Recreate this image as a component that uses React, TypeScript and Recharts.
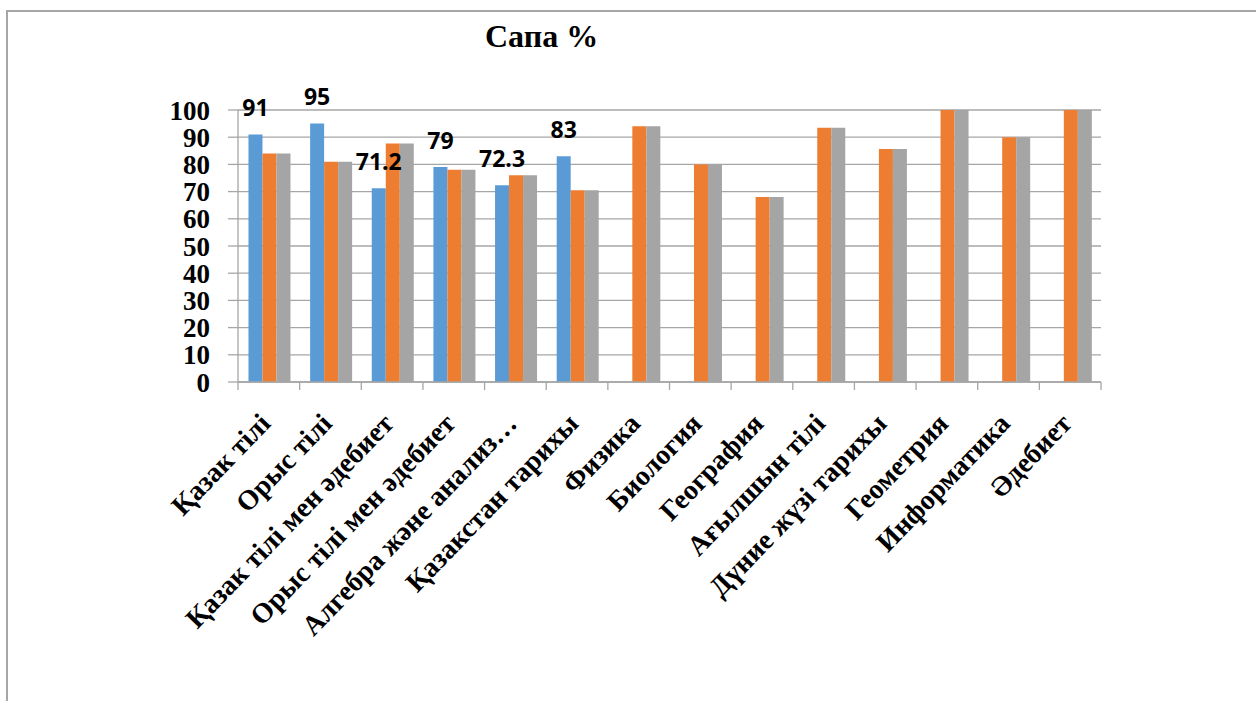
import React from "react";
import { BarChart, Bar, XAxis, YAxis, CartesianGrid, LabelList } from "recharts";

const categories = [
  "Қазак тілі",
  "Орыс тілі",
  "Қазак тілі мен әдебиет",
  "Орыс тілі мен әдебиет",
  "Алгебра және анализ…",
  "Қазакстан тарихы",
  "Физика",
  "Биология",
  "География",
  "Ағылшын тілі",
  "Дүние жүзі тарихы",
  "Геометрия",
  "Информатика",
  "Әдебиет",
];

const series1: (number | null)[] = [91, 95, 71.2, 79, 72.3, 83, null, null, null, null, null, null, null, null];
const series2: number[] = [84, 81, 87.7, 78, 76, 70.5, 94, 80, 68, 93.5, 85.7, 100, 90, 100];
const series3: number[] = [84, 81, 87.7, 78, 76, 70.5, 94, 80, 68, 93.5, 85.7, 100, 90, 100];

const yTicks = [0, 10, 20, 30, 40, 50, 60, 70, 80, 90, 100];

const data = categories.map((name, i) => ({
  name,
  s1: series1[i],
  s2: series2[i],
  s3: series3[i],
}));

const W = 1256;
const H = 701;
const MARGIN = { top: 110, right: 155, bottom: 119, left: 0 };
const YAXIS_W = 238;
const PLOT_W = W - MARGIN.left - MARGIN.right - YAXIS_W;
const BAND = PLOT_W / categories.length;
const GRID = "#a6a6a6";
const SERIF = "'Liberation Serif', 'Times New Roman', serif";

const XTick = (props: any) => {
  const { x, y, payload, index } = props;
  const left = x - BAND / 2;
  const ax = x + 3;
  const ay = y + 43;
  return (
    <g>
      <line x1={left} y1={y} x2={left} y2={y + 8} stroke={GRID} strokeWidth={1.3} />
      {index === categories.length - 1 && (
        <line x1={x + BAND / 2} y1={y} x2={x + BAND / 2} y2={y + 8} stroke={GRID} strokeWidth={1.3} />
      )}
      <text
        x={ax}
        y={ay}
        textAnchor="end"
        transform={`rotate(-46 ${ax} ${ay})`}
        fontFamily={SERIF}
        fontWeight={700}
        fontSize={28}
        fill="#000"
      >
        {payload.value}
      </text>
    </g>
  );
};

const TopLabel = (props: any) => {
  const { x, y, width, value } = props;
  if (value === null || value === undefined) return null;
  return (
    <text
      x={x + width / 2}
      y={y - 18.5}
      textAnchor="middle"
      fontFamily="'Open Sans', Calibri, sans-serif"
      fontWeight={700}
      fontSize={23}
      fill="#000"
    >
      {value}
    </text>
  );
};

export default function App() {
  return (
    <div
      style={{
        position: "absolute",
        left: 0,
        top: 0,
        width: W,
        height: H,
        overflow: "hidden",
        background: "#fff",
      }}
    >
      <div
        style={{
          position: "absolute",
          left: 6,
          top: 10,
          width: 1400,
          height: 900,
          borderLeft: `2px solid ${GRID}`,
          borderTop: `2px solid ${GRID}`,
          boxSizing: "border-box",
        }}
      />
      <div
        style={{
          position: "absolute",
          left: 485,
          top: 20,
          fontFamily: SERIF,
          fontWeight: 700,
          fontSize: 32,
          lineHeight: "32px",
          color: "#000",
          whiteSpace: "nowrap",
        }}
      >
        Сапа %
      </div>
      <div style={{ position: "absolute", left: 0, top: 0 }}>
        <BarChart
          width={W}
          height={H}
          data={data}
          margin={MARGIN}
          barCategoryGap="17%"
          barGap={0}
        >
          <CartesianGrid horizontal={true} vertical={false} stroke={GRID} strokeWidth={1.3} />
          <XAxis
            dataKey="name"
            height={200}
            interval={0}
            tickLine={false}
            tickSize={0}
            tickMargin={0}
            axisLine={{ stroke: GRID, strokeWidth: 1.3 }}
            tick={<XTick />}
          />
          <YAxis
            width={YAXIS_W}
            domain={[0, 100]}
            ticks={yTicks}
            interval={0}
            tickSize={10}
            tickMargin={18}
            axisLine={{ stroke: GRID, strokeWidth: 1.3 }}
            tickLine={{ stroke: GRID, strokeWidth: 1.3 }}
            tick={{ fill: "#000", fontFamily: SERIF, fontWeight: 700, fontSize: 27 }}
          />
          <Bar dataKey="s1" name="Ряд 1" fill="#5B9BD5" isAnimationActive={false}>
            <LabelList dataKey="s1" content={<TopLabel />} />
          </Bar>
          <Bar dataKey="s2" name="Ряд 2" fill="#ED7D31" isAnimationActive={false} />
          <Bar dataKey="s3" name="Ряд 3" fill="#A5A5A5" isAnimationActive={false} />
        </BarChart>
      </div>
    </div>
  );
}
